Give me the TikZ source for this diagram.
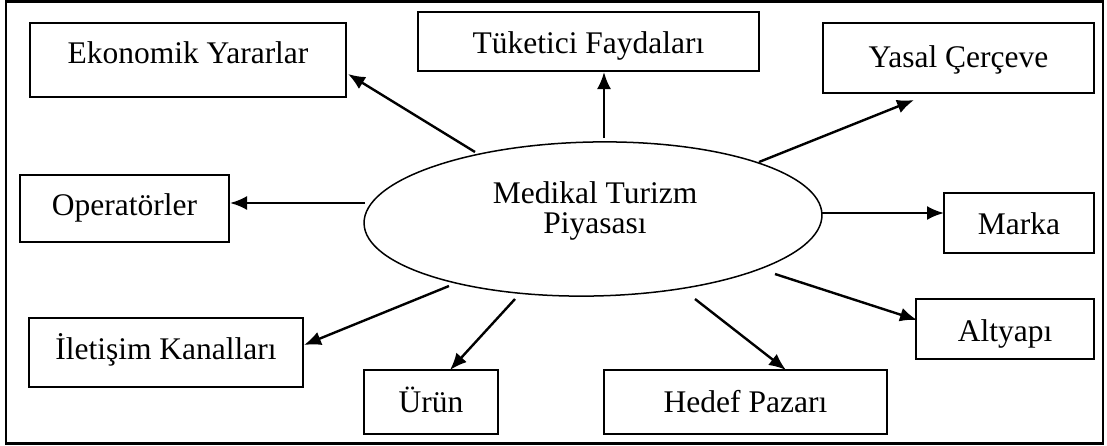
\documentclass[tikz,border=0pt]{standalone}
\usepackage{fontspec}
\setmainfont{Liberation Serif}
\usetikzlibrary{arrows.meta,shapes.geometric,calc}

\tikzset{
  box/.style={draw, line width=1.3pt, rectangle, inner sep=0pt, outer sep=0pt},
  lbl/.style={inner sep=0pt, outer sep=0pt, anchor=base, font=\fontsize{31.5}{32}\selectfont},
  arr/.style={line width=2.4pt, -{Latex[length=17pt,width=14pt]}},
  frame/.style={draw, line width=2.6pt}
}

\begin{document}
\begin{tikzpicture}[x=1pt, y=-1pt]
  \useasboundingbox (0,0) rectangle (1107,445);
  \draw[frame] (6,1.5) rectangle (1103,443.5);

  % central topic
  \node[draw, ellipse, line width=1.5pt, minimum width=458pt, minimum height=154pt,
        inner sep=0pt, outer sep=0pt, rotate=1.1] (med) at (593,219) {};
  \node[lbl] (medA) at (595,203) {Medikal Turizm};
  \node[lbl] (medB) at (595,233) {Piyasası};

  % surrounding boxes
  \node[box, minimum width=316pt, minimum height=74pt] (eko) at (188,60) {};
  \node[box, minimum width=341pt, minimum height=59pt] (tuk) at (588.5,41.5) {};
  \node[box, minimum width=271pt, minimum height=70pt] (yas) at (958.5,58) {};
  \node[box, minimum width=209pt, minimum height=67pt] (ope) at (124.5,208.5) {};
  \node[box, minimum width=150pt, minimum height=60pt] (mar) at (1019,223) {};
  \node[box, minimum width=274pt, minimum height=69pt] (ile) at (166,352.5) {};
  \node[box, minimum width=134pt, minimum height=64pt] (uru) at (431,402) {};
  \node[box, minimum width=283pt, minimum height=64pt] (hed) at (745.5,402) {};
  \node[box, minimum width=178pt, minimum height=60pt] (alt) at (1005,329) {};

  % box labels, set on a baseline below each box's top edge
  \node[lbl] (ekoT) at ($(eko.north)+(0,40)$) {Ekonomik Yararlar};
  \node[lbl] (tukT) at ($(tuk.north)+(0,41)$) {Tüketici Faydaları};
  \node[lbl] (yasT) at ($(yas.north)+(0,44)$) {Yasal Çerçeve};
  \node[lbl] (opeT) at ($(ope.north)+(0,40)$) {Operatörler};
  \node[lbl] (marT) at ($(mar.north)+(0,41)$) {Marka};
  \node[lbl] (ileT) at ($(ile.north)+(0,41)$) {İletişim Kanalları};
  \node[lbl] (uruT) at ($(uru.north)+(0,42)$) {Ürün};
  \node[lbl] (hedT) at ($(hed.north)+(0,42)$) {Hedef Pazarı};
  \node[lbl] (altT) at ($(alt.north)+(0,42)$) {Altyapı};

  % connectors
  \draw[arr] ($(med.center)+(-118,-67)$) -- ($(eko.east)+(2,14)$);
  \draw[arr] ($(med.center)+(11,-81)$) -- ($(tuk.south)+(15.5,1)$);
  \draw[arr] ($(med.center)+(166,-57)$) -- ($(yas.south)+(-44.5,7)$);
  \draw[arr] ($(med.center)+(-228,-16)$) -- ($(ope.east)+(1,-5.5)$);
  \draw[arr] ($(med.center)+(229,-6)$) -- ($(mar.west)+(0,-10)$);
  \draw[arr] ($(med.center)+(-144,67)$) -- ($(ile.east)+(1,-7.5)$);
  \draw[arr] ($(med.center)+(-78,80)$) -- ($(uru.north)+(19,0)$);
  \draw[arr] ($(med.center)+(102,80)$) -- ($(hed.north)+(40.5,0)$);
  \draw[arr] ($(med.center)+(182,55)$) -- ($(alt.west)+(1,-9)$);
\end{tikzpicture}
\end{document}
